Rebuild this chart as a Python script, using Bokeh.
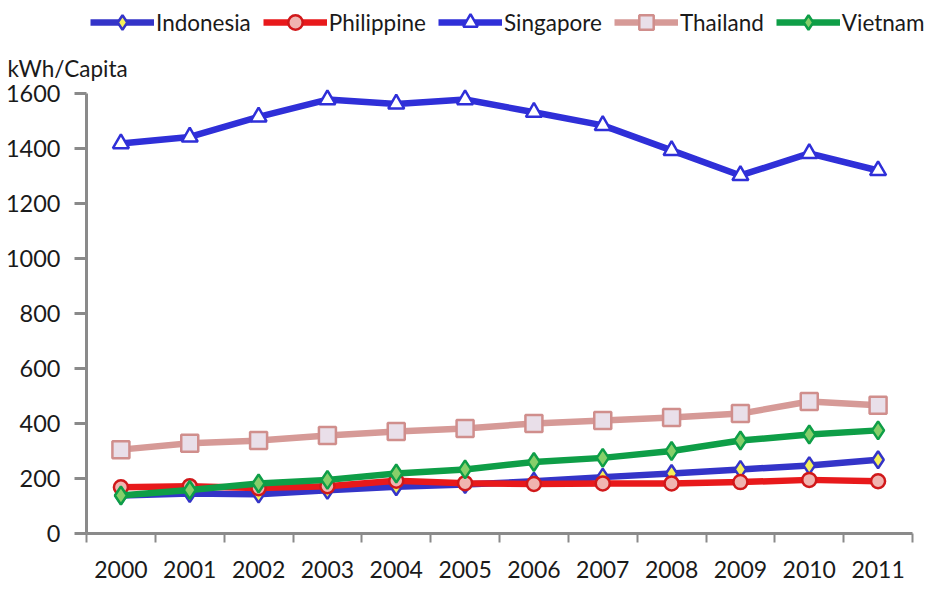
from bokeh.plotting import figure
from bokeh.models import (ColumnDataSource, FixedTicker, Legend, LegendItem,
                          Range1d, Label)
from bokeh.embed import file_html
from bokeh.resources import INLINE

# Electricity consumption per capita (kWh) in selected ASEAN countries
years = [2000, 2001, 2002, 2003, 2004, 2005, 2006, 2007, 2008, 2009, 2010, 2011]
year_labels = [str(y) for y in years]

indonesia = [138, 145, 143, 157, 170, 178, 190, 205, 218, 233, 247, 268]
philippine = [168, 172, 165, 172, 192, 183, 180, 182, 182, 187, 195, 190]
singapore = [1418, 1442, 1515, 1578, 1562, 1578, 1532, 1484, 1393, 1302, 1382, 1320]
thailand = [305, 328, 338, 356, 371, 382, 400, 411, 422, 436, 480, 466]
vietnam = [138, 158, 182, 195, 218, 233, 260, 275, 300, 338, 360, 375]

y_ticks = [0, 200, 400, 600, 800, 1000, 1200, 1400, 1600]

FONT = "Lato"
AXIS_GREY = "#8a8a8a"
TEXT = "#1a1a1a"
W, H = 934, 590

# The frame fills the whole canvas; the axes sit at fixed positions inside it
# so the legend and the unit caption above the plot area are not clipped.
X_LEFT_PX, X_RIGHT_PX = 86, 912      # where 1999.5 and 2011.5 fall
Y_ZERO_PX, Y_TOP_PX = 533, 93        # where 0 and 1600 fall (from top)
x_per_px = 12 / (X_RIGHT_PX - X_LEFT_PX)
y_per_px = 1600 / (Y_ZERO_PX - Y_TOP_PX)
x_range = Range1d(1999.5 - X_LEFT_PX * x_per_px,
                  2011.5 + (W - X_RIGHT_PX) * x_per_px)
y_range = Range1d(-(H - Y_ZERO_PX) * y_per_px, 1600 + Y_TOP_PX * y_per_px)

p = figure(width=W, height=H, output_backend="svg", toolbar_location=None,
           x_range=x_range, y_range=y_range,
           min_border_left=0, min_border_right=0, min_border_top=0,
           min_border_bottom=0)
p.outline_line_color = None
p.grid.grid_line_color = None
p.background_fill_color = "white"
p.border_fill_color = "white"

# x axis: labels centred on each year, tick marks between the years
xax = p.xaxis[0]
xax.fixed_location = 0
xax.bounds = (1999.5, 2011.5)
xax.ticker = FixedTicker(ticks=years,
                         minor_ticks=[y - 0.5 for y in years] + [2011.5])
xax.major_label_overrides = {y: s for y, s in zip(years, year_labels)}
xax.major_tick_line_color = None
xax.major_tick_out = 9
xax.major_tick_in = 0
xax.minor_tick_out = 9
xax.minor_tick_in = 0
xax.minor_tick_line_color = AXIS_GREY
xax.minor_tick_line_width = 2
xax.axis_line_color = AXIS_GREY
xax.axis_line_width = 3
xax.major_label_standoff = 18
xax.major_label_text_font = FONT
xax.major_label_text_font_size = "23px"
xax.major_label_text_color = TEXT

yax = p.yaxis[0]
yax.fixed_location = 1999.5
yax.bounds = (0, 1600)
yax.ticker = FixedTicker(ticks=y_ticks, minor_ticks=[])
yax.major_tick_out = 12
yax.major_tick_in = 0
yax.major_tick_line_color = AXIS_GREY
yax.major_tick_line_width = 3
yax.axis_line_color = AXIS_GREY
yax.axis_line_width = 3
yax.major_label_standoff = 14
yax.major_label_text_font = FONT
yax.major_label_text_font_size = "23.5px"
yax.major_label_text_color = TEXT

series = [
    ("Indonesia", indonesia, "#3434c8", "diamond", "#f4f05a", "#3434c8", 17),
    ("Philippine", philippine, "#e8191b", "circle", "#f0b4b0", "#d0181a", 14),
    ("Singapore", singapore, "#2f2fd8", "triangle", "#ffffff", "#2f2fd8", 16),
    ("Thailand", thailand, "#d69a97", "square", "#e9dfe9", "#d08e8c", 17),
    ("Vietnam", vietnam, "#0e9e47", "diamond", "#86cf6a", "#0e9e47", 18),
]

items = []
for name, vals, lcolor, marker, fill, mline, size in series:
    src = ColumnDataSource(dict(year=years, value=vals))
    ln = p.line("year", "value", source=src, line_color=lcolor, line_width=6.5)
    sc = p.scatter("year", "value", source=src, marker=marker, size=size,
                   fill_color=fill, line_color=mline, line_width=2.5)
    items.append(LegendItem(label=name, renderers=[ln, sc]))

legend = Legend(items=items, orientation="horizontal", location=(90, 550),
                glyph_width=64, glyph_height=36, spacing=12, label_standoff=2,
                padding=0, margin=0, border_line_color=None,
                background_fill_alpha=0, label_text_font=FONT,
                label_text_font_size="22.5px", label_text_color=TEXT)
p.add_layout(legend, "center")

unit = Label(x=1999.5, y=1600, x_offset=-79, y_offset=25, text="kWh/Capita",
             text_font=FONT, text_font_size="22.5px", text_color=TEXT,
             text_baseline="alphabetic")
p.add_layout(unit)

open("out.html", "w").write(file_html(p, INLINE))
